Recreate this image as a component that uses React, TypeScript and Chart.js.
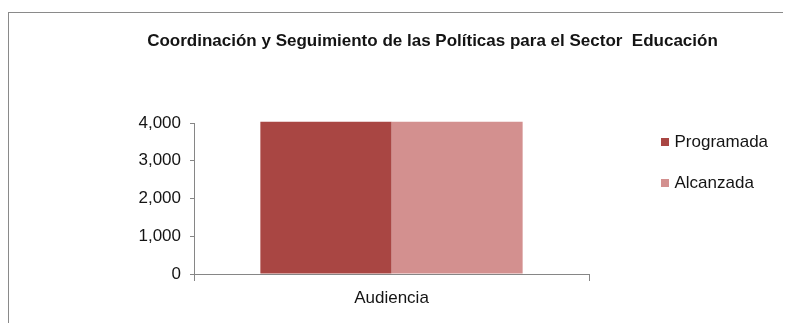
import { useEffect, useRef } from 'react';
import { Chart, registerables } from 'chart.js';

Chart.register(...registerables);

const TITLE = 'Coordinación y Seguimiento de las Políticas para el Sector  Educación';
const categories = ['Audiencia'];
const seriesNames = ['Programada', 'Alcanzada'];
const programada = [4035];
const alcanzada = [4035];
const yTickValues = [0, 1000, 2000, 3000, 4000];

const FONT = '"Liberation Sans", Arial, Helvetica, sans-serif';
const TEXT = '#141414';
const AXIS = '#868686';
const DARK_RED = '#A94643';
const LIGHT_RED = '#D3908F';

const CANVAS_W = 849;
const CANVAS_H = 323;
const PLOT_RIGHT = 581;
const LEGEND_GAP = 51;

export default function App() {
  const ref = useRef<HTMLCanvasElement | null>(null);

  useEffect(() => {
    document.documentElement.style.overflow = 'hidden';
    document.body.style.overflow = 'hidden';
    const canvas = ref.current;
    if (!canvas) return;
    const chart = new Chart(canvas, {
      type: 'bar',
      data: {
        labels: categories,
        datasets: [
          {
            label: seriesNames[0],
            data: programada,
            backgroundColor: DARK_RED,
            borderWidth: 0,
            categoryPercentage: 0.664,
            barPercentage: 1,
            clip: false,
          },
          {
            label: seriesNames[1],
            data: alcanzada,
            backgroundColor: LIGHT_RED,
            borderWidth: 0,
            categoryPercentage: 0.664,
            barPercentage: 1,
            clip: false,
          },
        ],
      },
      options: {
        responsive: false,
        maintainAspectRatio: false,
        animation: false,
        devicePixelRatio: 1,
        layout: { padding: 0 },
        events: [],
        scales: {
          x: {
            type: 'category',
            offset: true,
            grid: {
              display: true,
              drawOnChartArea: false,
              drawTicks: true,
              tickLength: 7,
              color: AXIS,
              offset: true,
            },
            border: { display: true, color: AXIS, width: 1 },
            ticks: {
              color: TEXT,
              padding: 7,
              font: { family: FONT, size: 17 },
            },
            afterFit: (s: any) => {
              s.height = 57;
            },
          },
          y: {
            type: 'linear',
            position: 'left',
            min: 0,
            max: 4000,
            afterBuildTicks: (s: any) => {
              s.ticks = yTickValues.map((v) => ({ value: v }));
            },
            grid: {
              display: true,
              drawOnChartArea: false,
              drawTicks: true,
              tickLength: 4,
              color: AXIS,
            },
            border: { display: true, color: AXIS, width: 1 },
            ticks: {
              color: TEXT,
              padding: 9,
              font: { family: FONT, size: 17 },
              callback: (v: any) => Number(v).toLocaleString('en-US'),
            },
            afterFit: (s: any) => {
              s.width = 186;
            },
          },
          gapRight: {
            type: 'linear',
            position: 'right',
            weight: 0,
            display: true,
            grid: { display: false },
            border: { display: false },
            ticks: { display: false },
            afterFit: (s: any) => {
              s.width = LEGEND_GAP;
            },
          },
          outerRight: {
            type: 'linear',
            position: 'right',
            weight: 2000,
            display: true,
            grid: { display: false },
            border: { display: false },
            ticks: { display: false },
            afterFit: (s: any) => {
              const lw = s.chart.legend ? s.chart.legend.width : 126;
              s.width = Math.max(0, CANVAS_W - PLOT_RIGHT - LEGEND_GAP - lw);
            },
          },
        },
        plugins: {
          tooltip: { enabled: false },
          title: {
            display: true,
            text: TITLE,
            color: TEXT,
            font: { family: FONT, size: 17, weight: 'bold' },
            padding: { top: 22.8, bottom: 71.8 },
          },
          legend: {
            display: true,
            position: 'right',
            align: 'start',
            maxWidth: 220,
            title: {
              display: true,
              text: '',
              font: { family: FONT, size: 10 },
              padding: { top: 89.5, bottom: 0 },
            },
            labels: {
              usePointStyle: true,
              pointStyle: 'rect',
              boxWidth: 2,
              boxHeight: 8,
              padding: 24,
              color: TEXT,
              font: { family: FONT, size: 17 },
            },
          },
        },
      },
    } as any);
    return () => chart.destroy();
  }, []);

  return (
    <div style={{ position: 'relative', width: 783, height: 315, overflow: 'hidden' }}>
      <div
        style={{
          position: 'absolute',
          left: 0,
          top: 4,
          right: 0,
          bottom: 0,
          borderTop: '1px solid #8a8a8a',
          borderLeft: '1px solid #8a8a8a',
        }}
      />
      <canvas
        ref={ref}
        width={CANVAS_W}
        height={CANVAS_H}
        style={{ position: 'absolute', left: 0, top: 0, width: CANVAS_W, height: CANVAS_H }}
      />
    </div>
  );
}
